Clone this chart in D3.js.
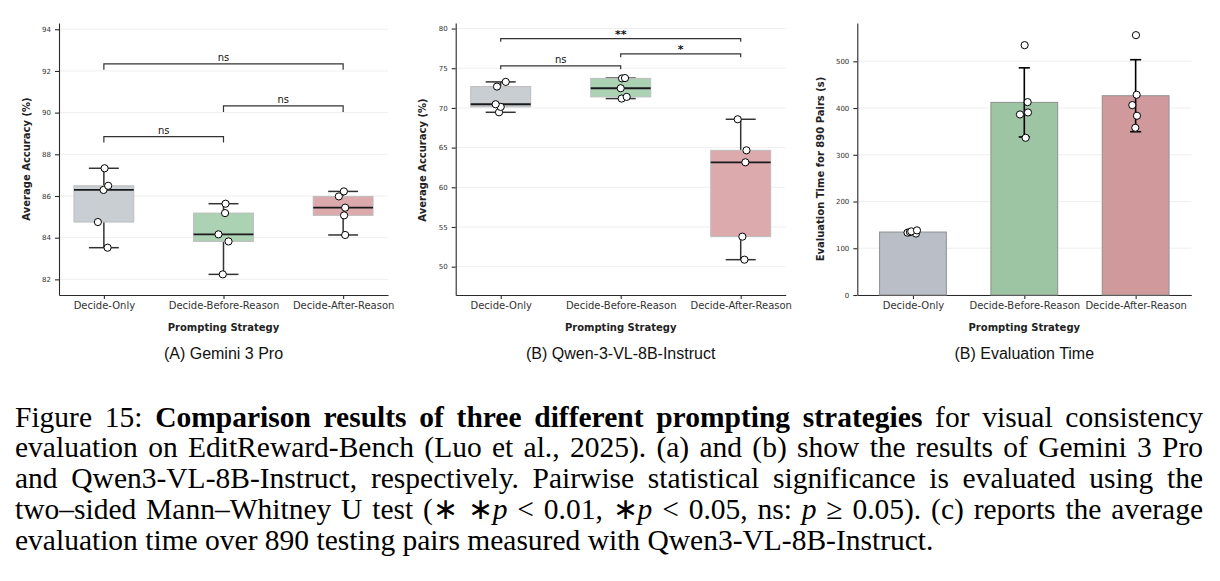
<!DOCTYPE html>
<html>
<head>
<meta charset="utf-8">
<script src="https://cdn.jsdelivr.net/npm/d3@7"></script>
<style>
  body { margin: 0; background: #fff; }
</style>
</head>
<body>
<svg id="fig" width="1220" height="581"></svg>
<script>
// categories shared by all three panels
var categories = ["Decide-Only", "Decide-Before-Reason", "Decide-After-Reason"];

// (A) Gemini 3 Pro - average accuracy (%) of each run
var geminiDecideOnly = [83.52, 84.75, 86.29, 86.49, 87.33];
var geminiBeforeReason = [82.24, 83.82, 84.16, 85.18, 85.63];
var geminiAfterReason = [84.13, 85.07, 85.44, 85.98, 86.22];
var geminiTicks = [82, 84, 86, 88, 90, 92, 94];

// (B) Qwen-3-VL-8B-Instruct - average accuracy (%)
var qwenDecideOnly = [69.45, 70.13, 70.46, 72.69, 73.28];
var qwenBeforeReason = [71.18, 71.39, 72.48, 73.72, 73.76];
var qwenAfterReason = [50.88, 53.78, 63.15, 64.66, 68.57];
var qwenTicks = [50, 55, 60, 65, 70, 75, 80];

// (C) evaluation time for 890 pairs (s)
var timeDecideOnly = [131.5, 133.3, 134.5, 136.1, 138.3];
var timeBeforeReason = [336.4, 386.3, 390.6, 412.7, 534.6];
var timeAfterReason = [357.8, 383.5, 406.3, 428.4, 556.0];
var timeTicks = [0, 100, 200, 300, 400, 500];

// strip jitter, as a fraction of the category step
var geminiJitter = [[0.031, -0.05, -0.003, 0.036, 0.006], [-0.006, 0.042, -0.042, 0.013, 0.017], [0.017, 0.008, 0.017, -0.036, 0.006]];
var qwenJitter = [[-0.014, 0, -0.042, -0.031, 0.042], [0.008, 0.05, 0, 0.011, 0.036], [0.031, 0.014, 0.039, 0.048, -0.025]];
var timeJitter = [[0.027, -0.049, -0.027, -0.015, 0.036], [0.012, -0.039, 0.033, 0.03, 0.003], [-0.003, 0.012, -0.03, 0.009, 0.003]];

// Mann-Whitney brackets (level in data units)
var geminiSig = [{a: 0, b: 1, level: 88.85, label: "ns"}, {a: 1, b: 2, level: 90.32, label: "ns"}, {a: 0, b: 2, level: 92.34, label: "ns"}];
var qwenSig = [{a: 0, b: 1, level: 75.29, label: "ns"}, {a: 1, b: 2, level: 76.8, label: "*"}, {a: 0, b: 2, level: 78.74, label: "**"}];

var boxColors = ["#c9ced3", "#acd2b4", "#dcaaad"];
var barColors = ["#b9bec7", "#9dc5a3", "#d09a9d"];

var captionLines = [
  "Figure 15: *Comparison *results *of *three *different *prompting *strategies for visual consistency",
  "evaluation on EditReward-Bench (Luo et al., 2025). (a) and (b) show the results of Gemini 3 Pro",
  "and Qwen3-VL-8B-Instruct, respectively. Pairwise statistical significance is evaluated using the",
  "two–sided Mann–Whitney U test (∗ ∗_p < 0.01, ∗_p < 0.05, ns: _p ≥ 0.05). (c) reports the average",
  "evaluation time over 890 testing pairs measured with Qwen3-VL-8B-Instruct."
];

var svg = d3.select("#fig");
var plotTop = 23, plotBottom = 295;
var mpl = "DejaVu Sans, sans-serif";

function drawAxes(g, x, y, ticks, cfg) {
  // faint horizontal grid
  g.append("g").selectAll("line")
    .data(ticks)
    .enter()
    .append("line")
    .attr("x1", cfg.left).attr("x2", cfg.right)
    .attr("y1", d => y(d)).attr("y2", d => y(d))
    .attr("stroke", "#efefef")
    .attr("stroke-width", 1);

  var yAxis = g.append("g")
    .attr("transform", `translate(${cfg.left},0)`)
    .call(d3.axisLeft(y).tickValues(ticks).tickSize(4).tickPadding(4).tickSizeOuter(0));
  yAxis.attr("font-family", mpl).attr("font-size", 7);

  var xAxis = g.append("g")
    .attr("transform", `translate(0,${plotBottom})`)
    .call(d3.axisBottom(x).tickSize(4).tickPadding(3).tickSizeOuter(0));
  xAxis.attr("font-family", mpl).attr("font-size", 10);

  g.selectAll(".domain, .tick line").attr("stroke", "#2a2a2a").attr("stroke-width", 1.1);
  g.selectAll(".tick text").attr("fill", "#333");

  g.append("text")
    .attr("x", (cfg.left + cfg.right) / 2)
    .attr("y", 330.5)
    .attr("text-anchor", "middle")
    .attr("font-family", mpl)
    .attr("font-size", 10)
    .attr("font-weight", "bold")
    .attr("fill", "#222")
    .text("Prompting Strategy");

  g.append("text")
    .attr("transform", `translate(${cfg.ylabelX},${cfg.ylabelY}) rotate(-90)`)
    .attr("text-anchor", "middle")
    .attr("dy", "0.35em")
    .attr("font-family", mpl)
    .attr("font-size", 10)
    .attr("font-weight", "bold")
    .attr("fill", "#222")
    .text(cfg.ylabel);

  svg.append("text")
    .attr("x", (cfg.left + cfg.right) / 2)
    .attr("y", 359)
    .attr("text-anchor", "middle")
    .attr("font-family", "Liberation Sans, Arial, sans-serif")
    .attr("font-size", 16)
    .attr("fill", "#111")
    .text(cfg.title);
}

function drawPoints(g, x, y, groups, jitter) {
  groups.forEach(function(vals, i) {
    g.append("g").selectAll("circle")
      .data(vals)
      .enter()
      .append("circle")
      .attr("cx", (d, k) => x(categories[i]) + jitter[i][k] * x.step())
      .attr("cy", d => y(d))
      .attr("r", 3.6)
      .attr("fill", "#fff")
      .attr("stroke", "#000")
      .attr("stroke-width", 1);
  });
}

function boxPanel(cfg) {
  var x = d3.scalePoint().domain(categories).range([cfg.left, cfg.right]).padding(0.375);
  var y = d3.scaleLinear().domain(cfg.yDomain).range([plotBottom, plotTop]);
  var g = svg.append("g");
  drawAxes(g, x, y, cfg.ticks, cfg);

  var boxW = x.step() * 0.5, capW = x.step() * 0.25;
  cfg.groups.forEach(function(vals, i) {
    var s = vals.slice().sort(d3.ascending);
    var q1 = d3.quantile(s, 0.25), med = d3.quantile(s, 0.5), q3 = d3.quantile(s, 0.75);
    var iqr = q3 - q1;
    var lo = d3.min(s.filter(v => v >= q1 - 1.5 * iqr));
    var hi = d3.max(s.filter(v => v <= q3 + 1.5 * iqr));
    var cx = x(categories[i]);
    var bg = g.append("g");
    [[lo, q1], [q3, hi]].forEach(function(w) {
      bg.append("line")
        .attr("x1", cx).attr("x2", cx)
        .attr("y1", y(w[0])).attr("y2", y(w[1]))
        .attr("stroke", "#333").attr("stroke-width", 1.5);
    });
    [lo, hi].forEach(function(v) {
      bg.append("line")
        .attr("x1", cx - capW / 2).attr("x2", cx + capW / 2)
        .attr("y1", y(v)).attr("y2", y(v))
        .attr("stroke", "#333").attr("stroke-width", 1.5);
    });
    bg.append("rect")
      .attr("x", cx - boxW / 2).attr("width", boxW)
      .attr("y", y(q3)).attr("height", y(q1) - y(q3))
      .attr("fill", boxColors[i])
      .attr("stroke", "#bdbdbd").attr("stroke-width", 1);
    bg.append("line")
      .attr("x1", cx - boxW / 2).attr("x2", cx + boxW / 2)
      .attr("y1", y(med)).attr("y2", y(med))
      .attr("stroke", "#1a1a1a").attr("stroke-width", 1.8);
  });

  drawPoints(g, x, y, cfg.groups, cfg.jitter);

  // significance brackets
  cfg.sig.forEach(function(s) {
    var xa = x(categories[s.a]), xb = x(categories[s.b]), yl = y(s.level);
    var stars = s.label !== "ns";
    g.append("path")
      .attr("d", `M${xa},${yl + cfg.drop}V${yl}H${xb}V${yl + cfg.drop}`)
      .attr("fill", "none")
      .attr("stroke", "#333")
      .attr("stroke-width", 1.2);
    g.append("text")
      .attr("x", (xa + xb) / 2)
      .attr("y", stars ? yl - 1 : yl - 3)
      .attr("text-anchor", "middle")
      .attr("font-family", mpl)
      .attr("font-size", stars ? 11 : 10)
      .attr("font-weight", stars ? "bold" : null)
      .attr("fill", "#111")
      .text(s.label);
  });
}

function barPanel(cfg) {
  var x = d3.scalePoint().domain(categories).range([cfg.left, cfg.right]).padding(0.5);
  var y = d3.scaleLinear().domain(cfg.yDomain).range([plotBottom, plotTop]);
  var g = svg.append("g");
  drawAxes(g, x, y, cfg.ticks, cfg);

  var barW = x.step() * 0.6, capW = x.step() * 0.1;
  cfg.groups.forEach(function(vals, i) {
    var m = d3.mean(vals), sd = d3.deviation(vals);
    var cx = x(categories[i]);
    g.append("rect")
      .attr("x", cx - barW / 2).attr("width", barW)
      .attr("y", y(m)).attr("height", y(0) - y(m))
      .attr("fill", barColors[i])
      .attr("stroke", "#8f8f8f").attr("stroke-width", 1);
    g.append("line")
      .attr("x1", cx).attr("x2", cx)
      .attr("y1", y(m - sd)).attr("y2", y(m + sd))
      .attr("stroke", "#000").attr("stroke-width", 1.6);
    [m - sd, m + sd].forEach(function(v) {
      g.append("line")
        .attr("x1", cx - capW / 2).attr("x2", cx + capW / 2)
        .attr("y1", y(v)).attr("y2", y(v))
        .attr("stroke", "#000").attr("stroke-width", 1.6);
    });
  });
  drawPoints(g, x, y, cfg.groups, cfg.jitter);
}

boxPanel({
  left: 59, right: 388, yDomain: [81.25, 94.3], ticks: geminiTicks,
  groups: [geminiDecideOnly, geminiBeforeReason, geminiAfterReason],
  jitter: geminiJitter, sig: geminiSig, drop: 6,
  ylabel: "Average Accuracy (%)", ylabelX: 26.7, ylabelY: 159,
  title: "(A) Gemini 3 Pro"
});

boxPanel({
  left: 455.7, right: 785.7, yDomain: [46.43, 80.7], ticks: qwenTicks,
  groups: [qwenDecideOnly, qwenBeforeReason, qwenAfterReason],
  jitter: qwenJitter, sig: qwenSig, drop: 3.2,
  ylabel: "Average Accuracy (%)", ylabelX: 422.7, ylabelY: 160,
  title: "(B) Qwen-3-VL-8B-Instruct"
});

barPanel({
  left: 857.3, right: 1191.3, yDomain: [0, 582], ticks: timeTicks,
  groups: [timeDecideOnly, timeBeforeReason, timeAfterReason],
  jitter: timeJitter,
  ylabel: "Evaluation Time for 890 Pairs (s)", ylabelX: 820, ylabelY: 169,
  title: "(B) Evaluation Time"
});

// caption, justified word by word
var capSize = 29.5, capX0 = 15, capX1 = 1203, capBase = 426.5, capLead = 30.8;
var cap = svg.append("g")
  .attr("font-family", "Liberation Serif, Times New Roman, serif")
  .attr("font-size", capSize)
  .attr("fill", "#000");

captionLines.forEach(function(line, i) {
  var words = line.split(" ");
  var nodes = words.map(function(w) {
    var bold = w.charAt(0) === "*";
    if (bold) w = w.slice(1);
    var t = cap.append("text").attr("y", capBase + i * capLead);
    w.split(/(_p)/).filter(s => s.length).forEach(function(seg) {
      var ts = t.append("tspan").attr("font-weight", bold ? "bold" : null);
      if (seg === "_p") ts.attr("font-style", "italic").text("p");
      else ts.text(seg);
    });
    return t;
  });
  var widths = nodes.map(n => n.node().getComputedTextLength());
  var last = i === captionLines.length - 1;
  var gap = last ? capSize * 0.25 : (capX1 - capX0 - d3.sum(widths)) / (words.length - 1);
  var xx = capX0;
  nodes.forEach(function(n, k) {
    n.attr("x", xx);
    xx += widths[k] + gap;
  });
});
</script>
</body>
</html>
